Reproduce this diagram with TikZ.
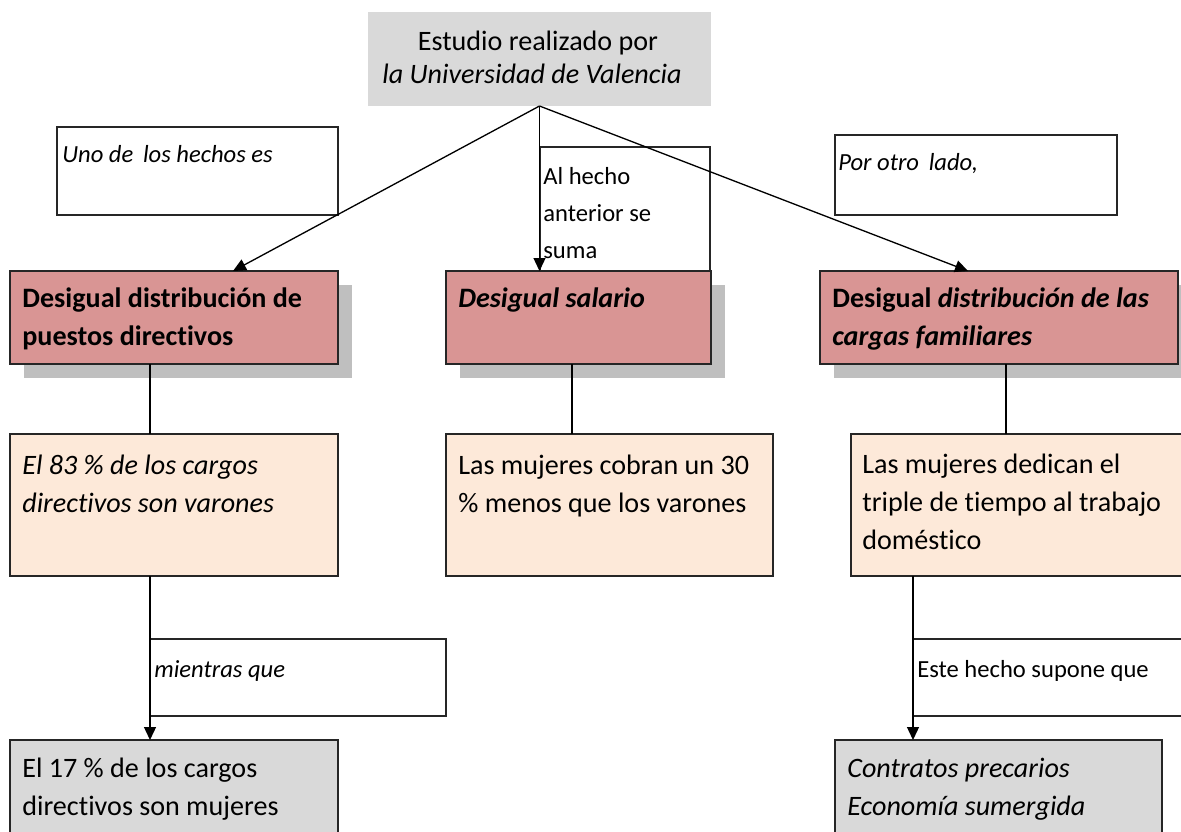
\documentclass[tikz,border=0pt]{standalone}
\usepackage{fontspec}
\setmainfont{Carlito}[Ligatures=NoCommon]
\usetikzlibrary{arrows.meta,shadows}
\definecolor{redfill}{HTML}{D99594}
\definecolor{peach}{HTML}{FDE9D9}
\definecolor{greybox}{HTML}{D9D9D9}
\definecolor{shgrey}{HTML}{BFBFBF}
\newcommand{\pxu}{0.02cm}
\begin{document}
\begin{tikzpicture}[x=0.02cm, y=-0.02cm]
    \tikzset{>={Triangle[length=0.26cm,width=0.24cm]}}
    \tikzset{
      box/.style={draw=black!85, line width=0.8pt, anchor=north west, inner sep=0pt, outer sep=0pt},
      plainbox/.style={box, fill=white},
      redbox/.style={box, fill=redfill, drop shadow={shadow xshift=0.28cm, shadow yshift=-0.28cm, fill=shgrey, opacity=1}},
      peachbox/.style={box, fill=peach},
      greybx/.style={box, fill=greybox},
      bigtxt/.style={font=\fontsize{16}{21.6}\selectfont, align=left, anchor=base west, inner sep=0pt},
      smalltxt/.style={font=\fontsize{14}{21}\selectfont, align=left, anchor=base west, inner sep=0pt},
      conn/.style={line width=0.75pt}
    }
    \path[use as bounding box, clip] (0,0) rectangle (1181,832);
    % linking words (text nodes sit on the baseline of their last line)
    \node[plainbox, minimum width=281*\pxu, minimum height=88*\pxu] (uno) at (57,127) {};
    \node[plainbox, minimum width=170*\pxu, minimum height=124*\pxu] (alhecho) at (540,147) {};
    \node[plainbox, minimum width=282*\pxu, minimum height=80*\pxu] (otro) at (835,135) {};
    \node[smalltxt] (unoT) at (62,162) {\textit{Uno de\, los hechos es}};
    \node[smalltxt] (alhechoT) at (543,258) {Al hecho\\anterior se\\suma};
    \node[smalltxt] (otroT) at (838,170) {\textit{Por otro\, lado,}};
    % title
    \node[box, draw=none, fill=greybox, minimum width=343*\pxu, minimum height=94*\pxu] (title) at (368,12) {};
    \node[font=\fontsize{16}{21.6}\selectfont, anchor=base, inner sep=0pt] (titleA) at (538,50) {Estudio realizado por};
    \node[font=\fontsize{16}{21.6}\selectfont, anchor=base, inner sep=0pt] (titleB) at (532,83) {\textit{la Universidad de Valencia}};
    % first level
    \node[redbox, minimum width=328*\pxu, minimum height=93*\pxu] (dist) at (10,271) {};
    \node[redbox, minimum width=265*\pxu, minimum height=93*\pxu] (sal) at (446,271) {};
    \node[redbox, minimum width=358*\pxu, minimum height=93*\pxu] (cargas) at (820,271) {};
    \node[bigtxt, font=\fontsize{16}{21.6}\selectfont\bfseries] (distT) at (22,345) {Desigual distribución de\\puestos directivos};
    \node[bigtxt, font=\fontsize{16}{21.6}\selectfont\bfseries\itshape] (salT) at (458,307) {Desigual salario};
    \node[bigtxt, font=\fontsize{16}{21.6}\selectfont\bfseries] (cargasT) at (832,345) {Desigual \textit{distribución de las}\\\textit{cargas familiares}};
    % second level
    \node[peachbox, minimum width=328*\pxu, minimum height=142*\pxu] (varones) at (10,434) {};
    \node[peachbox, minimum width=327*\pxu, minimum height=142*\pxu] (cobran) at (446,434) {};
    \node[peachbox, minimum width=340*\pxu, minimum height=142*\pxu] (dedican) at (851,434) {};
    \node[bigtxt] (varonesT) at (22,512) {\textit{El 83 \% de los cargos}\\\textit{directivos son varones}};
    \node[bigtxt] (cobranT) at (458,512) {Las mujeres cobran un 30\\\% menos que los varones};
    \node[bigtxt] (dedicanT) at (862,549) {Las mujeres dedican el\\triple de tiempo al trabajo\\doméstico};
    % linking words, lower
    \node[plainbox, minimum width=296*\pxu, minimum height=77*\pxu] (mientras) at (150,639) {};
    \node[plainbox, minimum width=290*\pxu, minimum height=77*\pxu] (supone) at (913,639) {};
    \node[smalltxt] (mientrasT) at (154,677) {\textit{mientras que}};
    \node[smalltxt] (suponeT) at (917,677) {Este hecho supone que};
    % third level
    \node[greybx, minimum width=328*\pxu, minimum height=110*\pxu] (mujeres) at (10,740) {};
    \node[greybx, minimum width=327*\pxu, minimum height=110*\pxu] (precarios) at (835,740) {};
    \node[bigtxt] (mujeresT) at (22,815) {El 17 \% de los cargos\\directivos son mujeres};
    \node[bigtxt] (precariosT) at (847,815) {\textit{Contratos precarios}\\\textit{Economía sumergida}};
    % connectors
    \coordinate (tL) at (233,271);
    \coordinate (tR) at (968,271);
    \coordinate (cL) at (150,0);
    \coordinate (cM) at (572,0);
    \coordinate (cR) at (1006,0);
    \coordinate (cR2) at (913,0);
    \draw[conn,->] (title.south) -- (tL);
    \draw[conn,->] (title.south) -- (title.south |- sal.north);
    \draw[conn,->] (title.south) -- (tR);
    \draw[conn] (dist.south -| cL) -- (varones.north -| cL);
    \draw[conn] (sal.south -| cM) -- (cobran.north -| cM);
    \draw[conn] (cargas.south -| cR) -- (dedican.north -| cR);
    \draw[conn,->] (varones.south -| cL) -- (mujeres.north -| cL);
    \draw[conn,->] (dedican.south -| cR2) -- (precarios.north -| cR2);
\end{tikzpicture}
\end{document}
